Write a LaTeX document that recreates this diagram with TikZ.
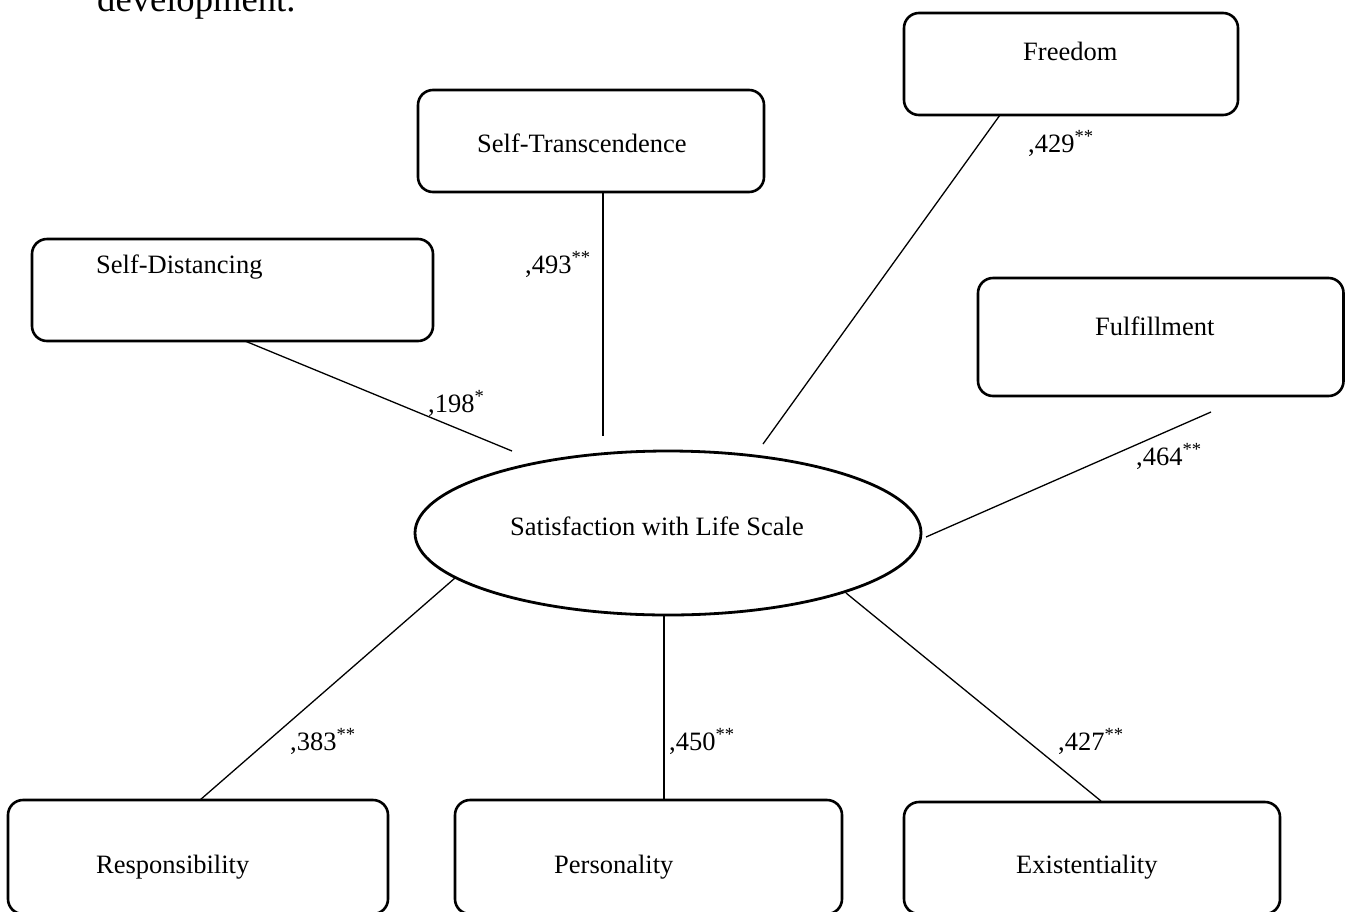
\documentclass[tikz,border=0pt]{standalone}
\usepackage{fontspec}
\setmainfont{Liberation Serif}
\usetikzlibrary{shapes.geometric}
\begin{document}
\begin{tikzpicture}[x=1pt,y=-1pt,
  box/.style={draw=black,line width=2.6pt,rounded corners=15pt},
  lbl/.style={inner sep=0pt,anchor=base west,font=\fontsize{26.5}{30}\selectfont},
  num/.style={inner sep=0pt,anchor=base west,font=\fontsize{26.5}{30}\selectfont},
  conn/.style={draw=black,line width=1.3pt}]
\useasboundingbox (0,0) rectangle (1346,911);
\clip (0,0) rectangle (1346,911);
\fill[white] (0,0) rectangle (1346,911);
\node[inner sep=0pt,anchor=base west,font=\fontsize{36.6}{40}\selectfont] (dev) at (97,11) {development.};
% boxes
\draw[box] (32,239) rectangle (433,341);
\node[lbl] (sd) at (96,273) {Self-Distancing};
\draw[box] (418,90) rectangle (764,192);
\node[lbl] (st) at (477,152) {Self-Transcendence};
\draw[box] (904,13) rectangle (1238,115);
\node[lbl] (fr) at (1023,60) {Freedom};
\draw[box] (978,278) rectangle (1343.5,396);
\node[lbl] (fu) at (1095,335) {Fulfillment};
\draw[box] (8,800) rectangle (388,914);
\node[lbl] (re) at (96,873) {Responsibility};
\draw[box] (455,800) rectangle (842,914);
\node[lbl] (pe) at (554,873) {Personality};
\draw[box] (904,802) rectangle (1280,914);
\node[lbl] (ex) at (1016,873) {Existentiality};
% ellipse
\node[ellipse,draw=black,line width=2.8pt,minimum width=506pt,minimum height=164pt,inner sep=0pt,
  font=\fontsize{26.5}{30}\selectfont,text height=18pt,text depth=14pt] (sat) at (668,533) {Satisfaction with Life Scale\hspace*{22pt}};
% connector end points
\coordinate (sdA) at (245,341);  \coordinate (sdB) at (512,451);
\coordinate (stA) at (603,192);  \coordinate (stB) at (603,436);
\coordinate (frA) at (1000,115); \coordinate (frB) at (763,444);
\coordinate (fuA) at (1211,412); \coordinate (fuB) at (926,537);
\coordinate (reA) at (200,800);  \coordinate (reB) at (455,578);
\coordinate (peA) at (664,800);  \coordinate (peB) at (664,616);
\coordinate (exA) at (1101,801); \coordinate (exB) at (846,593);
\draw[conn] (sdA) -- (sdB);
\draw[conn] (stA) -- (stB);
\draw[conn] (frA) -- (frB);
\draw[conn] (fuA) -- (fuB);
\draw[conn] (reA) -- (reB);
\draw[conn] (peA) -- (peB);
\draw[conn] (exA) -- (exB);
% coefficients
\node[num] (n198) at (428,412) {,198\textsuperscript{*}};
\node[num] (n493) at (525,273) {,493\textsuperscript{**}};
\node[num] (n429) at (1028,152) {,429\textsuperscript{**}};
\node[num] (n464) at (1136,465) {,464\textsuperscript{**}};
\node[num] (n383) at (290,750) {,383\textsuperscript{**}};
\node[num] (n450) at (669,750) {,450\textsuperscript{**}};
\node[num] (n427) at (1058,750) {,427\textsuperscript{**}};
\end{tikzpicture}
\end{document}
